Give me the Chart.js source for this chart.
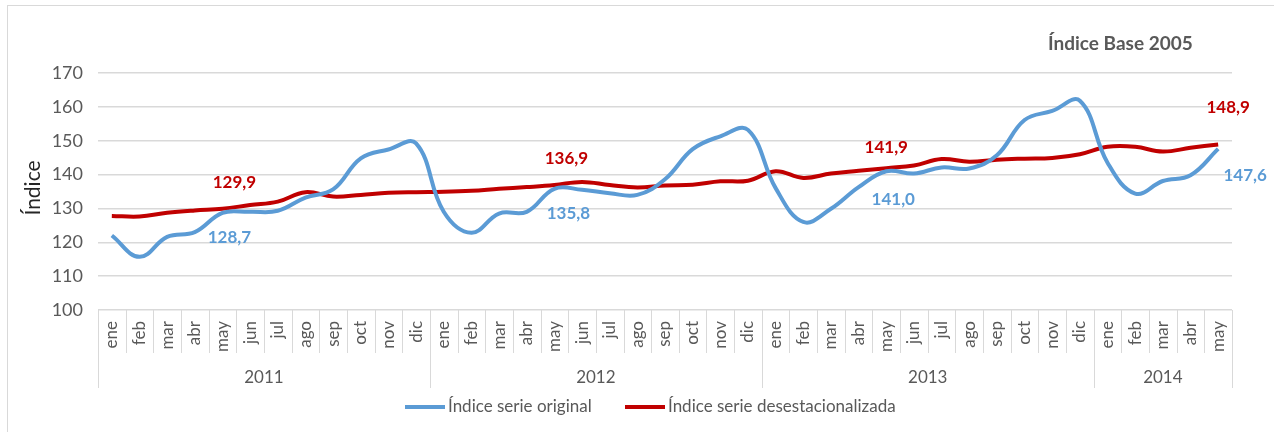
<!DOCTYPE html>
<html lang="es">
<head>
    <meta charset="UTF-8">
    <title>Índice serie original y desestacionalizada</title>
    <script src="https://cdn.jsdelivr.net/npm/chart.js"></script>
    <style>
        html, body { margin: 0; padding: 0; background: #fff; overflow: hidden; }
        #frame { position: absolute; left: 7px; top: 5px; width: 1400px; height: 500px; border: 1px solid #d9d9d9; }
        #wrap { position: absolute; left: 0; top: 0; width: 1274px; height: 432px; }
    </style>
</head>
<body>
    <div id="frame"></div>
    <div id="wrap"><canvas id="chart"></canvas></div>

    <script>
        // months, ene 2011 .. may 2014
        var months = ['ene','feb','mar','abr','may','jun','jul','ago','sep','oct','nov','dic',
                      'ene','feb','mar','abr','may','jun','jul','ago','sep','oct','nov','dic',
                      'ene','feb','mar','abr','may','jun','jul','ago','sep','oct','nov','dic',
                      'ene','feb','mar','abr','may'];
        var years = ['2011', '2012', '2013', '2014'];
        var monthsPerYear = [12, 12, 12, 5];

        var original = [122.0, 115.7, 121.6, 123.0, 128.7, 129.0, 129.3, 133.2, 135.6, 144.8, 147.4, 149.2,
                        129.0, 122.8, 128.5, 129.0, 135.8, 135.5, 134.5, 134.0, 138.6, 147.5, 151.3, 153.2,
                        136.0, 126.0, 129.9, 136.3, 141.0, 140.3, 142.1, 141.8, 145.7, 156.1, 158.8, 161.8,
                        143.5, 134.4, 138.1, 139.8, 147.6];
        var desest = [127.8, 127.6, 128.7, 129.4, 129.9, 131.0, 132.0, 134.8, 133.5, 134.0, 134.6, 134.8,
                      134.9, 135.2, 135.8, 136.3, 136.9, 137.8, 136.9, 136.2, 136.8, 137.0, 138.0, 138.2,
                      141.0, 139.0, 140.3, 141.1, 141.9, 142.7, 144.6, 143.8, 144.4, 144.7, 144.9, 146.0,
                      148.2, 148.2, 146.8, 147.9, 148.9];

        var blue = '#5b9bd5';
        var red = '#c00000';
        var grey = '#595959';
        var font = 'Lato, "Open Sans", sans-serif';

        // label offsets (px) for the "may" values, per series
        var offsets = {
            0: [[7, 25], [14, 25], [7, 28], [27, 27]],
            1: [[12, -26], [12, -27], [0, -21], [10, -37]]
        };

        var extras = {
            id: 'extras',
            afterDraw: function(chart) {
                var ctx = chart.ctx;
                var xs = chart.scales.x;
                var area = chart.chartArea;
                var half = (xs.getPixelForValue(1) - xs.getPixelForValue(0)) / 2;
                ctx.save();

                // month separators and year groups
                ctx.strokeStyle = '#d9d9d9';
                ctx.lineWidth = 1;
                var yearEdges = [0];
                var acc = 0;
                monthsPerYear.forEach(function(n) { acc += n; yearEdges.push(acc); });
                for (var i = 0; i <= months.length; i++) {
                    var bx = i < months.length ? xs.getPixelForValue(i) - half : xs.getPixelForValue(i - 1) + half;
                    bx = Math.round(bx) + 0.5;
                    var long = yearEdges.indexOf(i) >= 0;
                    ctx.beginPath();
                    ctx.moveTo(bx, area.bottom);
                    ctx.lineTo(bx, long ? 388 : 353);
                    ctx.stroke();
                }
                ctx.fillStyle = grey;
                ctx.font = '17px ' + font;
                ctx.textAlign = 'center';
                ctx.textBaseline = 'middle';
                years.forEach(function(yr, k) {
                    var a = xs.getPixelForValue(yearEdges[k]) - half;
                    var b = xs.getPixelForValue(yearEdges[k + 1] - 1) + half;
                    ctx.fillText(yr, (a + b) / 2, 378);
                });

                // value labels on the "may" points
                ctx.font = 'bold 17px ' + font;
                chart.data.datasets.forEach(function(ds, d) {
                    var meta = chart.getDatasetMeta(d);
                    var k = 0;
                    months.forEach(function(m, i) {
                        if (m !== 'may') return;
                        var p = meta.data[i];
                        var off = offsets[d][k++];
                        ctx.fillStyle = ds.borderColor;
                        ctx.fillText(ds.data[i].toFixed(1).replace('.', ','), p.x + off[0], p.y + off[1]);
                    });
                });

                // header note
                ctx.fillStyle = grey;
                ctx.font = 'bold 19px ' + font;
                ctx.textAlign = 'left';
                ctx.fillText('Índice Base 2005', 1048, 44);

                // y axis title
                ctx.save();
                ctx.translate(33, 188);
                ctx.rotate(-Math.PI / 2);
                ctx.fillStyle = '#262626';
                ctx.font = '21px ' + font;
                ctx.textAlign = 'center';
                ctx.fillText('Índice', 0, 0);
                ctx.restore();

                // legend
                var items = [['Índice serie original', blue, 405], ['Índice serie desestacionalizada', red, 625]];
                ctx.font = '17px ' + font;
                ctx.textAlign = 'left';
                items.forEach(function(it) {
                    ctx.strokeStyle = it[1];
                    ctx.lineWidth = 4;
                    ctx.beginPath();
                    ctx.moveTo(it[2], 407);
                    ctx.lineTo(it[2] + 40, 407);
                    ctx.stroke();
                    ctx.fillStyle = grey;
                    ctx.fillText(it[0], it[2] + 43, 407);
                });
                ctx.restore();
            }
        };

        var ctx = document.getElementById('chart').getContext('2d');
        new Chart(ctx, {
            type: 'line',
            data: {
                labels: months,
                datasets: [
                    { label: 'Índice serie original', data: original, borderColor: blue, borderWidth: 4, tension: 0.4, pointRadius: 0, fill: false },
                    { label: 'Índice serie desestacionalizada', data: desest, borderColor: red, borderWidth: 4, tension: 0.4, pointRadius: 0, fill: false }
                ]
            },
            options: {
                responsive: true,
                maintainAspectRatio: false,
                animation: false,
                layout: { padding: { top: 73, right: 42, bottom: 0, left: 0 } },
                plugins: { legend: { display: false }, tooltip: { enabled: false } },
                scales: {
                    x: {
                        offset: true,
                        grid: { display: false, drawTicks: false },
                        border: { display: false },
                        ticks: { autoSkip: false, maxRotation: 90, minRotation: 90, padding: 11, color: grey, font: { family: font, size: 17 } },
                        afterFit: function(s) { s.height = 122; }
                    },
                    y: {
                        min: 100,
                        max: 170,
                        ticks: { stepSize: 10, padding: 15, color: grey, font: { family: font, size: 18 } },
                        grid: { color: '#d9d9d9', lineWidth: 1.5, drawTicks: false },
                        border: { display: false },
                        afterFit: function(s) { s.width = 98; }
                    }
                }
            },
            plugins: [extras]
        });
    </script>
</body>
</html>
